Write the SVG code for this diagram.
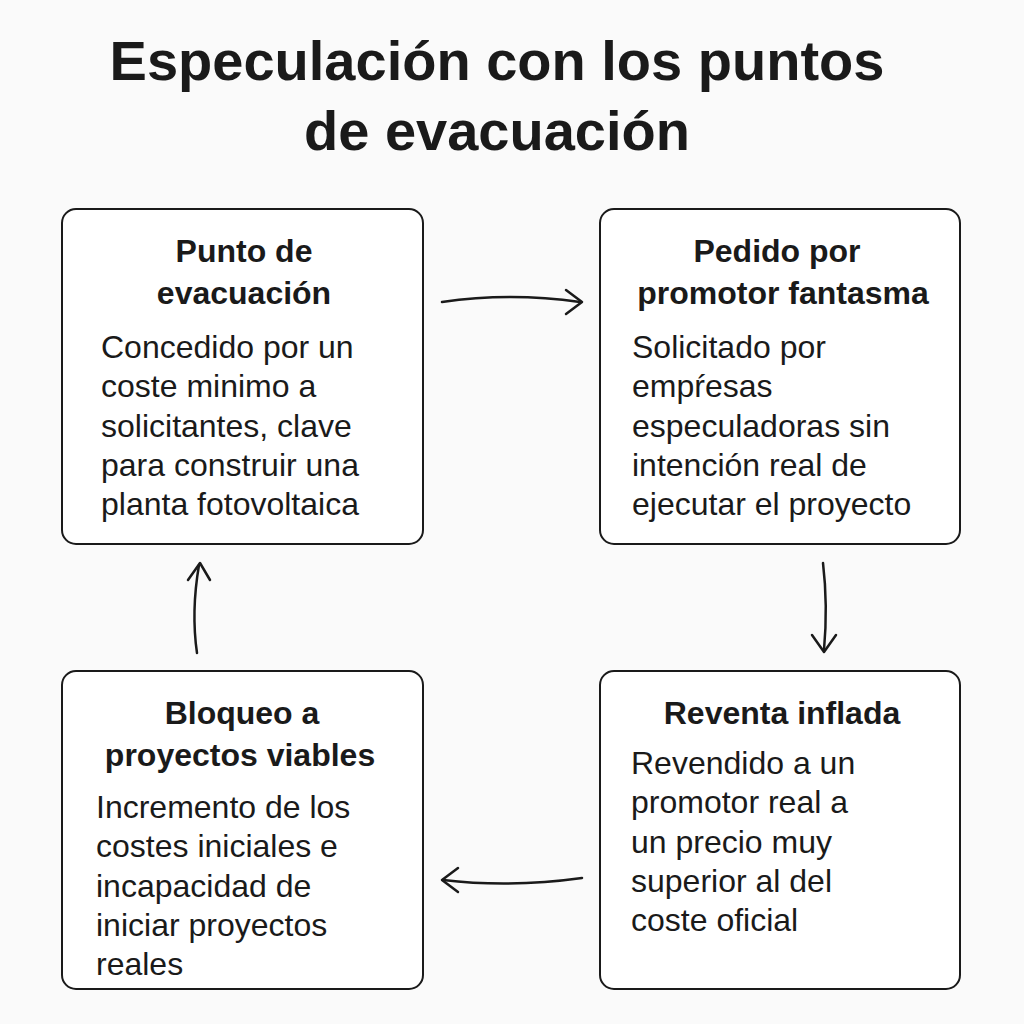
<svg xmlns="http://www.w3.org/2000/svg" width="1024" height="1024" viewBox="0 0 1024 1024">
<style>
.box{fill:#fff;stroke:#1a1a1a;stroke-width:2}
.h{font-family:"Liberation Sans",Arial,sans-serif;font-weight:bold;font-size:32px;fill:#1a1a1a;text-anchor:middle}
.b{font-family:"Liberation Sans",Arial,sans-serif;font-size:32px;fill:#1a1a1a}
.t{font-family:"Liberation Sans",Arial,sans-serif;font-weight:bold;font-size:56px;fill:#1a1a1a;text-anchor:middle}
.c{fill:none;stroke:#1a1a1a;stroke-width:2.5;stroke-linecap:round;stroke-linejoin:round}
</style>
<rect width="1024" height="1024" fill="#fafafa"/>
<text class="t" x="497" y="80">Especulación con los puntos</text>
<text class="t" x="497" y="150">de evacuación</text>
<g id="n1"><rect class="box" x="62" y="209" width="361" height="335" rx="14"/>
<text class="h" x="244" y="262">Punto de</text><text class="h" x="244" y="304">evacuación</text>
<text class="b" x="101" y="358">Concedido por un</text><text class="b" x="101" y="397">coste minimo a</text><text class="b" x="101" y="437">solicitantes, clave</text><text class="b" x="101" y="476">para construir una</text><text class="b" x="101" y="515">planta fotovoltaica</text></g>
<g id="n2"><rect class="box" x="600" y="209" width="360" height="335" rx="14"/>
<text class="h" x="777" y="262">Pedido por</text><text class="h" x="783" y="304">promotor fantasma</text>
<text class="b" x="632" y="358">Solicitado por</text><text class="b" x="632" y="397">empŕesas</text><text class="b" x="632" y="437">especuladoras sin</text><text class="b" x="632" y="476">intención real de</text><text class="b" x="632" y="515">ejecutar el proyecto</text></g>
<g id="n3"><rect class="box" x="600" y="671" width="360" height="318" rx="14"/>
<text class="h" x="782" y="724">Reventa inflada</text>
<text class="b" x="631" y="774">Revendido a un</text><text class="b" x="631" y="813">promotor real a</text><text class="b" x="631" y="853">un precio muy</text><text class="b" x="631" y="892">superior al del</text><text class="b" x="631" y="931">coste oficial</text></g>
<g id="n4"><rect class="box" x="62" y="671" width="361" height="318" rx="14"/>
<text class="h" x="242" y="724">Bloqueo a</text><text class="h" x="240" y="766">proyectos viables</text>
<text class="b" x="96" y="818">Incremento de los</text><text class="b" x="96" y="857">costes iniciales e</text><text class="b" x="96" y="897">incapacidad de</text><text class="b" x="96" y="936">iniciar proyectos</text><text class="b" x="96" y="975">reales</text></g>
<g id="connectors">
<path class="c" d="M442 302 Q510 292 580 302"/><path class="c" d="M566 290 L582 302 L566 314"/>
<path class="c" d="M823 563 Q828 605 824 650"/><path class="c" d="M812 635 L824 652 L836 635"/>
<path class="c" d="M582 878 Q510 888 443 880"/><path class="c" d="M458 868 L442 880 L458 892"/>
<path class="c" d="M197 653 Q191 612 199 565"/><path class="c" d="M188 580 L200 563 L210 580"/>
</g>
</svg>
